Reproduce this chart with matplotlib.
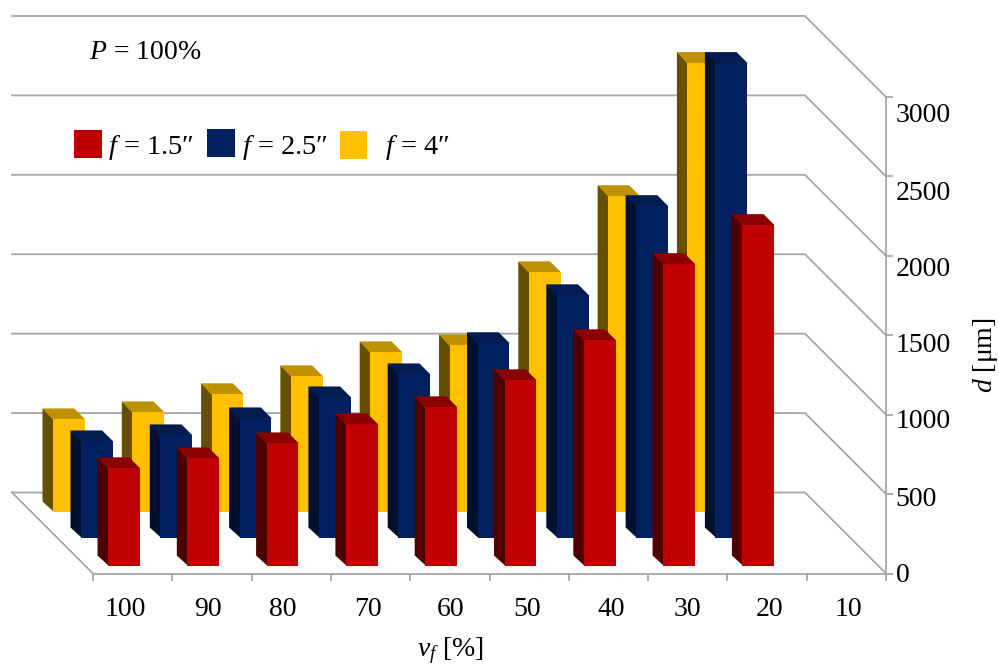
#!/usr/bin/env python3
# plot.py

import matplotlib.pyplot as plt
from matplotlib.patches import Polygon, Rectangle
import numpy as np

# Values, d in um per series
vf_labels = ["100", "90", "80", "70", "60", "50", "40", "30", "20", "10"]
d_red = [618, 680, 775, 895, 1002, 1172, 1424, 1903, 2149]
d_blue = [611, 649, 756, 888, 1033, 1229, 1531, 2092, 2993]
d_yellow = [586, 630, 744, 857, 1008, 1052, 1512, 1991, 2829]
y_ticks = [0, 500, 1000, 1500, 2000, 2500, 3000]

# Layout of the image in pixels
W, H = 999, 664
X0, X1 = 93, 886
Y0, Y3000 = 573.5, 97
PX_X = (X1 - X0) / 10
PX_Y = (Y0 - Y3000) / 3000
WALL_DEPTH = 81
BAR_DEPTH = 10.5
BAR_WIDTH = 31.7

GREY = "#a6a6a6"
SERIF = "Liberation Serif"

plt.rcParams["font.family"] = [SERIF, "DejaVu Serif"]
plt.rcParams["mathtext.fontset"] = "custom"
plt.rcParams["mathtext.rm"] = SERIF
plt.rcParams["mathtext.it"] = SERIF + ":italic"


def shift(x, d, depth):
    # Moves a point on the front plane back by depth pixels
    return x - depth / PX_X, d + depth / PX_Y


def draw_walls(ax):
    for v in y_ticks:
        pts = [shift(0, v, WALL_DEPTH), shift(10, v, WALL_DEPTH), (10, v)]
        ax.plot(*zip(*pts), color=GREY, lw=1.3, clip_on=False, zorder=1)
    left = [shift(0, 0, WALL_DEPTH), (0, 0)]
    ax.plot(*zip(*left), color=GREY, lw=1.3, clip_on=False, zorder=1)


def draw_series(ax, values, depth, x_offset, front, side, top, zorder):
    # depth is how far the front of the bars sits behind the axis line
    x = np.arange(len(values)) + x_offset / PX_X
    width = BAR_WIDTH / PX_X
    base = depth / PX_Y
    # Side and top run a pixel under the front face, so no seam shows
    lap_x, lap_y = 1 / PX_X, 1 / PX_Y
    for xi, v in zip(x, values):
        yt = base + v
        side_pts = [
            (xi + lap_x, base),
            (xi + lap_x, yt),
            shift(xi, yt, BAR_DEPTH),
            shift(xi, base, BAR_DEPTH),
        ]
        top_pts = [
            (xi, yt - lap_y),
            (xi + width, yt - lap_y),
            (xi + width, yt),
            shift(xi + width, yt, BAR_DEPTH),
            shift(xi, yt, BAR_DEPTH),
        ]
        ax.add_patch(Polygon(side_pts, fc=side, lw=0, clip_on=False, zorder=zorder))
        ax.add_patch(Polygon(top_pts, fc=top, lw=0, clip_on=False, zorder=zorder))
    ax.bar(
        x,
        values,
        width=width,
        bottom=base,
        align="edge",
        color=front,
        linewidth=0,
        clip_on=False,
        zorder=zorder + 0.1,
    )


def px_text(fig, x, y, s, **kw):
    kw.setdefault("va", "baseline")
    fig.text(x / W, 1 - y / H, s, **kw)


def px_square(fig, x0, x1, y0, y1, color):
    rect = Rectangle(
        (x0 / W, 1 - y1 / H),
        (x1 - x0) / W,
        (y1 - y0) / H,
        transform=fig.transFigure,
        color=color,
        lw=0,
    )
    fig.add_artist(rect)


def plot(fig, ax):
    draw_walls(ax)

    draw_series(ax, d_yellow, 61.5, -40, "#ffc000", "#665000", "#bf9000", 2)
    draw_series(ax, d_blue, 35.5, -12, "#002060", "#00102f", "#001c50", 3)
    draw_series(ax, d_red, 7.5, 15, "#c00000", "#4d0000", "#8b0000", 4)

    ax.set_xlim(0, 10)
    ax.set_ylim(0, 3000)

    for name in ["top", "left"]:
        ax.spines[name].set_visible(False)
    for name in ["bottom", "right"]:
        ax.spines[name].set_color(GREY)
        ax.spines[name].set_linewidth(1.3)

    # Tick marks sit on the edges, labels are placed slightly off from them
    ax.set_xticks(np.arange(11), labels=[])
    x_label_px = [125, 208, 283, 368, 451, 527, 611, 687, 770, 848]
    ax.set_xticks([(p - X0) / PX_X for p in x_label_px], labels=vf_labels, minor=True)
    ax.yaxis.tick_right()
    ax.set_yticks(y_ticks, labels=[])
    y_label_px = [572, 496, 419, 343, 267, 190, 113]
    ax.set_yticks(
        [(Y0 - p) / PX_Y for p in y_label_px],
        labels=[str(v) for v in y_ticks],
        minor=True,
    )
    ax.tick_params(which="major", length=5, width=1.3, color=GREY)
    ax.tick_params(which="minor", length=0, labelsize=20)
    ax.tick_params(axis="x", which="minor", pad=17)
    ax.tick_params(axis="y", which="minor", pad=7)

    px_text(fig, 89, 59, "$P$ = 100%", fontsize=20)

    px_square(fig, 74, 102, 130, 158, "#c00000")
    px_square(fig, 207, 234.5, 129, 157, "#002060")
    px_square(fig, 340, 367, 131, 159, "#ffc000")
    px_text(fig, 108, 154, "$f$ = 1.5\u2033", fontsize=20.5)
    px_text(fig, 242, 154, "$f$ = 2.5\u2033", fontsize=20.5)
    px_text(fig, 385, 154, "$f$ = 4\u2033", fontsize=20.5)

    px_text(fig, 450, 656, "$v_f$ [%]", fontsize=20, ha="center")
    px_text(fig, 985, 355, "$d$ [\u03bcm]", fontsize=20, rotation=90, ha="center", va="center")


def main():
    fig = plt.figure(figsize=(W / 100, H / 100), dpi=100)
    ax = fig.add_axes(
        [X0 / W, 1 - Y0 / H, (X1 - X0) / W, (Y0 - Y3000) / H], facecolor="none"
    )
    plot(fig, ax)
    fig.savefig("out.png", dpi=100)


if __name__ == "__main__":
    main()
